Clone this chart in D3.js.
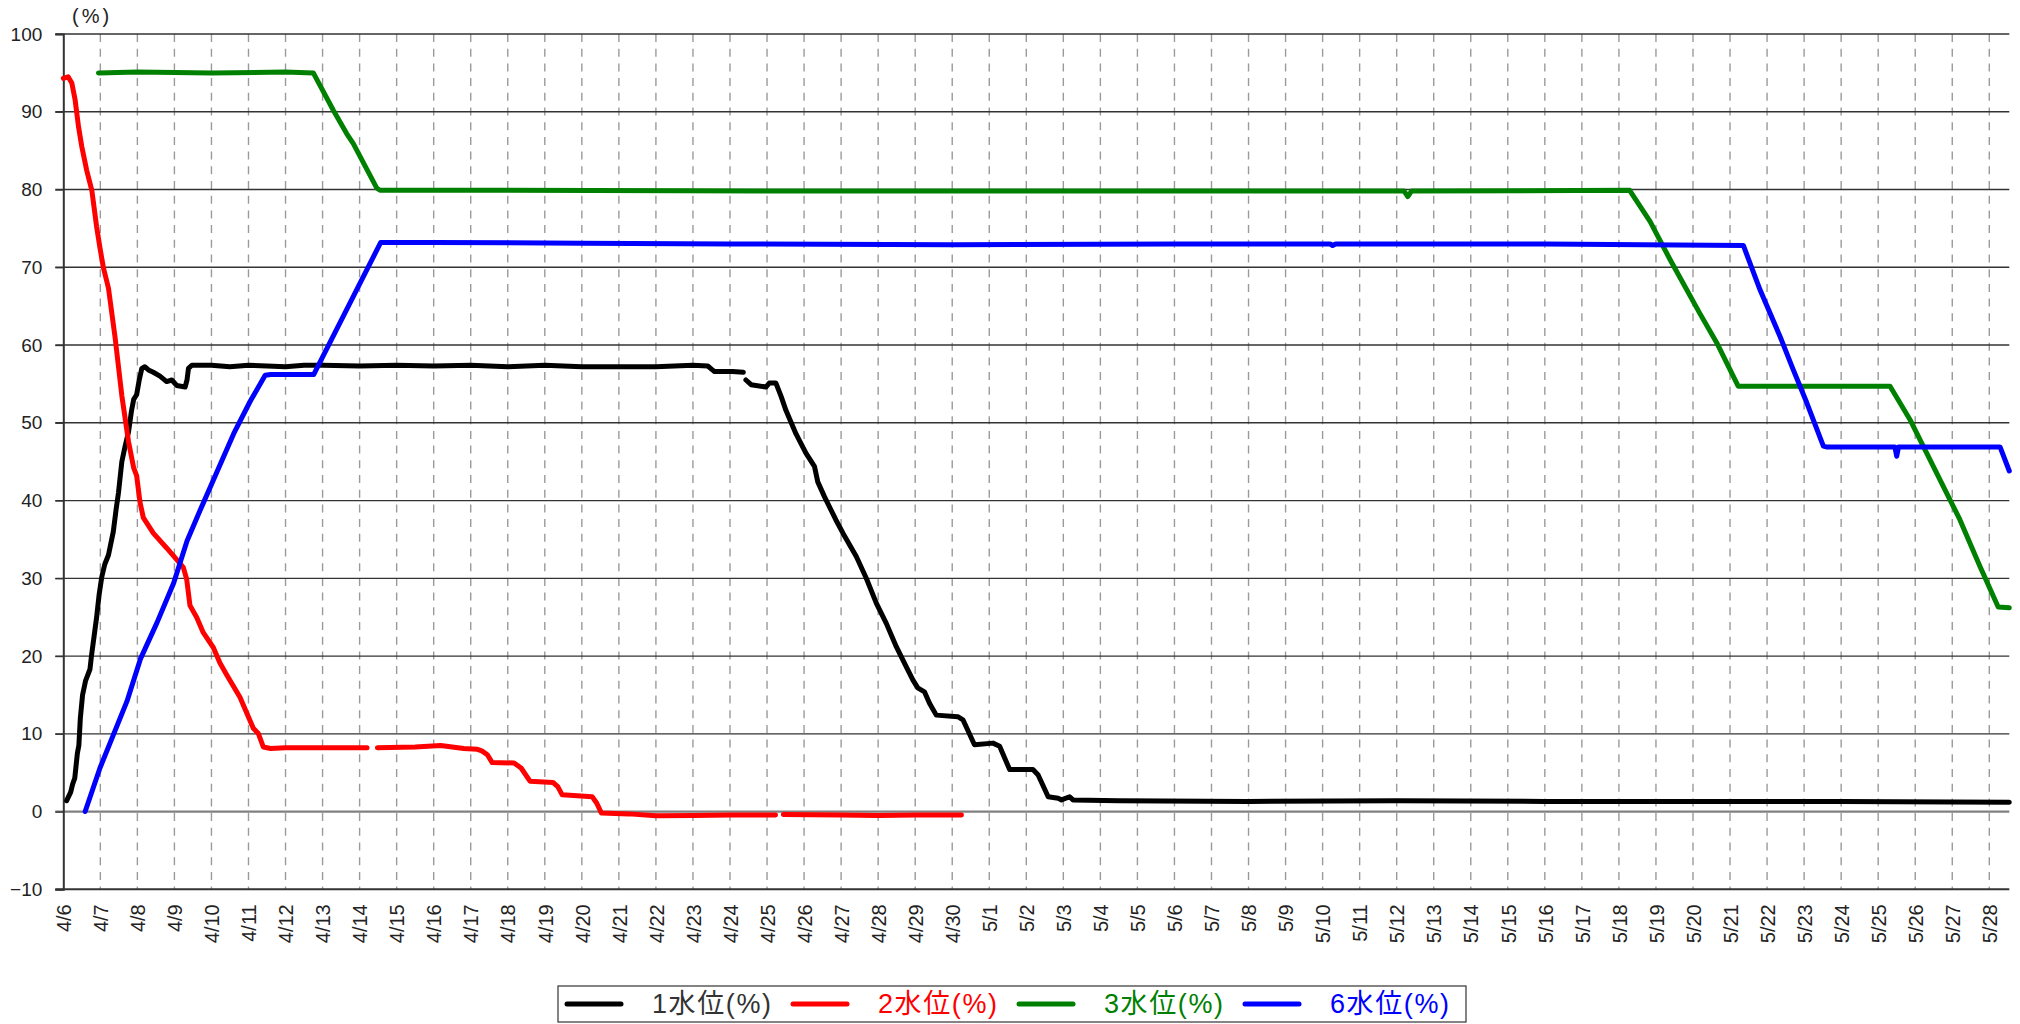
<!DOCTYPE html>
<html>
<head>
<meta charset="utf-8">
<script src="https://cdn.jsdelivr.net/npm/d3@7"></script>
<style>
    body { margin: 0; background: #fff; }
    svg { display: block; font-family: "Liberation Sans", Arial, "Noto Sans CJK JP", sans-serif; }
</style>
</head>
<body>
<div id="chart"></div>
<script>
// day offsets from 4/6 00:00, value in %
const dayLabels = ["4/6","4/7","4/8","4/9","4/10","4/11","4/12","4/13","4/14","4/15","4/16","4/17","4/18","4/19","4/20","4/21","4/22","4/23","4/24","4/25","4/26","4/27","4/28","4/29","4/30",
    "5/1","5/2","5/3","5/4","5/5","5/6","5/7","5/8","5/9","5/10","5/11","5/12","5/13","5/14","5/15","5/16","5/17","5/18","5/19","5/20","5/21","5/22","5/23","5/24","5/25","5/26","5/27","5/28"];
const yTicks = [-10, 0, 10, 20, 30, 40, 50, 60, 70, 80, 90, 100];

const level1 = [[0.09,1.4],[0.2,2.5],[0.25,3.5],[0.31,4.3],[0.38,7.5],[0.42,8.5],[0.46,12],[0.52,15],[0.6,16.8],[0.72,18.3],[0.76,20],[0.83,22.5],[0.9,25],[0.97,28],[1.04,30.2],[1.12,31.8],[1.22,33],[1.35,36],[1.43,39],[1.49,41],[1.58,45],[1.67,47],[1.76,48.8],[1.84,51.5],[1.9,53],[1.98,53.6],[2.05,55.5],[2.12,57],[2.2,57.2],[2.3,56.8],[2.43,56.5],[2.61,56],[2.79,55.3],[2.93,55.5],[3.06,54.8],[3.29,54.6],[3.34,55.5],[3.38,57],[3.47,57.4],[4,57.4],[4.5,57.2],[5,57.4],[5.5,57.3],[6,57.2],[6.5,57.4],[7,57.4],[8,57.3],[9,57.4],[10,57.3],[11,57.4],[12,57.2],[13,57.4],[14,57.2],[15,57.2],[16,57.2],[17,57.4],[17.4,57.3],[17.5,56.9],[17.58,56.6],[18.07,56.6],[18.36,56.5],null,[18.43,55.5],[18.57,54.9],[18.97,54.6],[19.06,55.1],[19.24,55.1],[19.38,53.4],[19.51,51.6],[19.78,48.6],[20.05,46.1],[20.28,44.4],[20.37,42.4],[20.55,40.5],[20.86,37.5],[21.05,35.8],[21.41,32.8],[21.68,30.0],[21.95,26.8],[22.22,24.2],[22.49,21.2],[22.76,18.6],[22.94,16.9],[23.07,15.9],[23.25,15.4],[23.39,13.9],[23.57,12.4],[24.15,12.2],[24.29,11.8],[24.6,8.6],[25.1,8.8],[25.28,8.4],[25.55,5.4],[26.18,5.4],[26.32,4.7],[26.59,1.9],[26.86,1.7],[26.95,1.5],[27.17,1.9],[27.26,1.5],[28.5,1.4],[32,1.3],[36,1.4],[40,1.3],[44,1.3],[48,1.3],[52.54,1.2]];

const level2 = [[0,94.3],[0.13,94.5],[0.23,93.7],[0.32,91.5],[0.41,88.1],[0.5,85.5],[0.63,82.5],[0.77,79.9],[0.9,75.2],[0.99,72.5],[1.08,70],[1.22,67.3],[1.4,60.9],[1.58,53.5],[1.76,47.6],[1.9,44.2],[1.98,43.2],[2.07,39.8],[2.16,37.8],[2.43,35.8],[2.79,33.9],[2.97,32.9],[3.24,31.4],[3.33,29.9],[3.42,26.5],[3.6,25],[3.78,23],[4.05,21.1],[4.23,19.1],[4.41,17.6],[4.77,14.7],[4.95,12.7],[5.13,10.7],[5.27,10],[5.4,8.3],[5.6,8.1],[6,8.2],[7,8.2],[8.2,8.2],null,[8.48,8.2],[9.5,8.3],[10.19,8.5],[10.81,8.1],[11.18,8.0],[11.3,7.8],[11.45,7.3],[11.58,6.3],[12.17,6.25],[12.36,5.6],[12.6,3.9],[13.22,3.75],[13.35,3.2],[13.47,2.15],[14.28,1.9],[14.4,1.1],[14.53,-0.2],[15.27,-0.3],[16,-0.55],[17,-0.5],[18,-0.45],[19.23,-0.43],null,[19.44,-0.39],[21,-0.45],[22,-0.5],[23,-0.45],[24.25,-0.43]];

const level3 = [[0.95,95.0],[2,95.1],[4,95.0],[6,95.1],[6.75,95.0],[7.29,90.2],[7.65,87.2],[7.83,85.9],[8.46,80.2],[8.55,79.9],[12,79.9],[20,79.8],[30,79.8],[36.2,79.8],[36.3,79.1],[36.4,79.8],[42.29,79.9],[42.84,75.9],[43.38,71.0],[44.18,64.1],[44.64,60.3],[45.22,54.7],[49.32,54.7],[49.86,50.4],[50.31,46.1],[51.2,37.6],[51.74,31.6],[52.24,26.3],[52.54,26.2]];

const level6 = [[0.59,0],[0.99,5.6],[1.72,14.2],[2.08,19.6],[2.53,24.3],[2.98,29.4],[3.34,34.8],[3.7,38.8],[4.15,43.7],[4.6,48.6],[5.05,52.8],[5.45,56.1],[5.6,56.2],[6.76,56.2],[8.57,73.2],[10,73.2],[14,73.1],[18,73.0],[24,72.9],[30,73.0],[34.2,73.0],[34.27,72.8],[34.35,73.0],[40,73.0],[45.36,72.8],[45.81,67.1],[46.35,61.1],[46.7,56.9],[47.07,52.6],[47.52,47.0],[47.6,46.9],[49.45,46.9],[49.5,45.7],[49.55,46.9],[52.29,46.9],[52.54,43.8]];

const seriesNames = ["1水位(%)", "2水位(%)", "3水位(%)", "6水位(%)"];
const seriesColors = ["#000000", "#ff0000", "#008000", "#0000ff"];
const textColors = ["#333333", "#ff0000", "#008000", "#0000ff"];
const seriesData = [level1, level2, level3, level6];

const outerW = 2020, outerH = 1024;
const plot = {left: 63.3, right: 2009.3, top: 34, bottom: 889.3};

const svg = d3.select("#chart").append("svg")
    .attr("width", outerW)
    .attr("height", outerH);

const x = d3.scaleLinear()
    .domain([0, 52.54])
    .range([plot.left, plot.right]);
const y = d3.scaleLinear()
    .domain([-10, 100])
    .range([plot.bottom, plot.top]);

// vertical dashed day lines
svg.append("g")
    .selectAll("line")
    .data(d3.range(1, dayLabels.length))
    .join("line")
    .attr("x1", d => x(d)).attr("x2", d => x(d))
    .attr("y1", y(100)).attr("y2", y(-10))
    .attr("stroke", "#9a9a9a")
    .attr("stroke-width", 1.4)
    .attr("stroke-dasharray", "8,6.7");

// horizontal grid lines
svg.append("g")
    .selectAll("line")
    .data(yTicks.filter(d => d > -10))
    .join("line")
    .attr("x1", plot.left - 8).attr("x2", plot.right)
    .attr("y1", d => y(d)).attr("y2", d => y(d))
    .attr("stroke", d => d === 0 ? "#808080" : "#333")
    .attr("stroke-width", d => d === 0 ? 2.2 : 1.3);

// y axis
const axisY = d3.axisLeft(y)
    .tickValues(yTicks)
    .tickSize(8)
    .tickPadding(13);
const gy = svg.append("g")
    .attr("transform", `translate(${plot.left},0)`)
    .call(axisY);
gy.select(".domain").attr("stroke", "#333").attr("stroke-width", 2);
gy.selectAll(".tick line").attr("stroke", "#333").attr("stroke-width", 1.3);
gy.selectAll(".tick text")
    .attr("fill", "#222")
    .style("font-size", "19px")
    .style("font-family", "'Liberation Sans', Arial, sans-serif");

// bottom axis line
svg.append("line")
    .attr("x1", plot.left - 8).attr("x2", plot.right)
    .attr("y1", y(-10)).attr("y2", y(-10))
    .attr("stroke", "#333")
    .attr("stroke-width", 2);

// x labels, rotated
const axisX = d3.axisBottom(x)
    .tickValues(d3.range(dayLabels.length))
    .tickFormat(d => dayLabels[d])
    .tickSize(0);
const gx = svg.append("g")
    .attr("transform", `translate(0,${plot.bottom})`)
    .call(axisX);
gx.select(".domain").remove();
gx.selectAll(".tick text")
    .attr("fill", "#222")
    .attr("text-anchor", "end")
    .attr("transform", "translate(0,15) rotate(-90)")
    .attr("x", 0)
    .attr("y", 0)
    .attr("dy", "0.36em")
    .style("font-size", "20px")
    .style("font-family", "'Liberation Sans', Arial, sans-serif");

svg.append("text")
    .attr("x", 72)
    .attr("y", 23)
    .attr("fill", "#222")
    .style("font-size", "20px")
    .style("letter-spacing", "3px")
    .style("font-family", "'Liberation Sans', Arial, sans-serif")
    .text("(%)");

// series lines
const line = d3.line()
    .defined(d => d !== null)
    .x(d => x(d[0]))
    .y(d => y(d[1]));

seriesData.forEach((data, i) => {
    svg.append("path")
        .datum(data)
        .attr("d", line)
        .attr("fill", "none")
        .attr("stroke", seriesColors[i])
        .attr("stroke-width", 5)
        .attr("stroke-linejoin", "round")
        .attr("stroke-linecap", "round");
});

// legend
const legend = svg.append("g")
    .attr("transform", "translate(558,986)");
legend.append("rect")
    .attr("x", 0).attr("y", 0)
    .attr("width", 908).attr("height", 36)
    .attr("fill", "#fff")
    .attr("stroke", "#333")
    .attr("stroke-width", 1.2);

const items = legend.selectAll("g.item")
    .data(seriesNames)
    .join("g")
    .attr("class", "item")
    .attr("transform", (d, i) => `translate(${6 + i * 226},0)`);
items.append("line")
    .attr("x1", 3).attr("x2", 57)
    .attr("y1", 18).attr("y2", 18)
    .attr("stroke", (d, i) => seriesColors[i])
    .attr("stroke-width", 5)
    .attr("stroke-linecap", "round");
items.append("text")
    .attr("x", 88)
    .attr("y", 27)
    .attr("fill", (d, i) => textColors[i])
    .style("font-size", "27px")
    .style("letter-spacing", "1.6px")
    .style("font-family", "'Liberation Sans', 'Noto Sans CJK JP', sans-serif")
    .text(d => d);
</script>
</body>
</html>
